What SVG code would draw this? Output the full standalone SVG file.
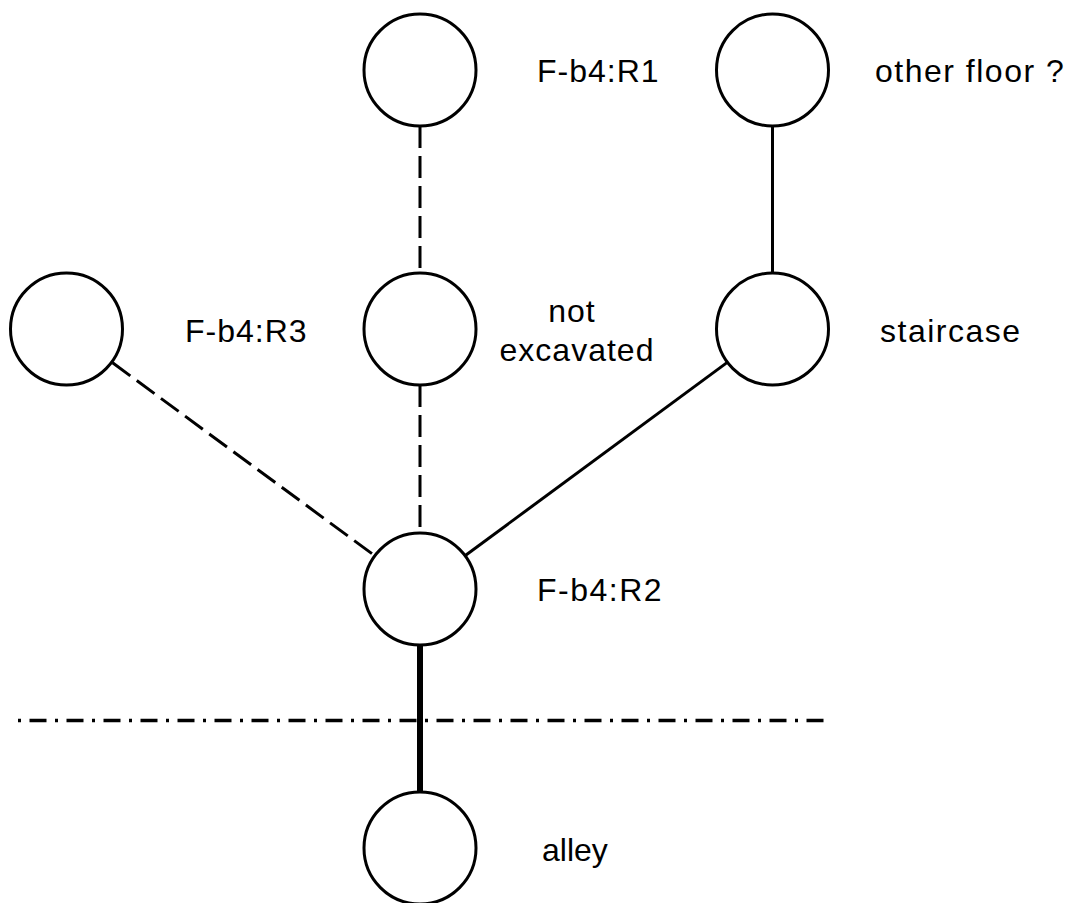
<svg xmlns="http://www.w3.org/2000/svg" width="1081" height="903" viewBox="0 0 1081 903">
<style>
.node{fill:#fff;stroke:#000;stroke-width:3}
.lbl{font-family:"Liberation Sans",Arial,sans-serif;font-size:32px;fill:#000;letter-spacing:1px}
.edge{stroke:#000;stroke-width:3;fill:none}
.dash{stroke-dasharray:22 8}
</style>
<rect width="1081" height="903" fill="#fff"/>
<g id="connectors">
<line class="edge dash" x1="420" y1="126" x2="420" y2="272"/>
<line class="edge" x1="772.5" y1="126" x2="772.5" y2="272"/>
<line class="edge dash" x1="420" y1="385" x2="420" y2="532"/>
<line class="edge dash" x1="112.6" y1="362.8" x2="374.3" y2="555.4"/>
<line class="edge" x1="727.3" y1="362.4" x2="465" y2="555.7"/>
<line class="edge" style="stroke-width:6" x1="420" y1="645" x2="420" y2="792"/>
</g>
<line id="boundary" x1="18" y1="720.5" x2="832" y2="720.5" stroke="#000" stroke-width="3.3" stroke-dasharray="3 8.5 17 8.5"/>
<g id="r1"><circle class="node" cx="420" cy="70" r="56"/><text class="lbl" x="537" y="82">F-b4:R1</text></g>
<g id="other"><circle class="node" cx="772.5" cy="70" r="56"/><text class="lbl" x="875" y="82" style="letter-spacing:1.5px">other floor ?</text></g>
<g id="r3"><circle class="node" cx="66.5" cy="329" r="56"/><text class="lbl" x="185" y="342">F-b4:R3</text></g>
<g id="notexc"><circle class="node" cx="420" cy="329" r="56"/><text class="lbl" text-anchor="middle"><tspan x="572" y="322">not</tspan><tspan x="577" y="361">excavated</tspan></text></g>
<g id="stair"><circle class="node" cx="772.5" cy="329" r="56"/><text class="lbl" x="880" y="342" style="letter-spacing:1.5px">staircase</text></g>
<g id="r2"><circle class="node" cx="420" cy="589" r="56"/><text class="lbl" x="537" y="601" style="letter-spacing:1.5px">F-b4:R2</text></g>
<g id="alley"><circle class="node" cx="420" cy="848" r="56"/><text class="lbl" x="542" y="861" style="letter-spacing:0">alley</text></g>
</svg>
